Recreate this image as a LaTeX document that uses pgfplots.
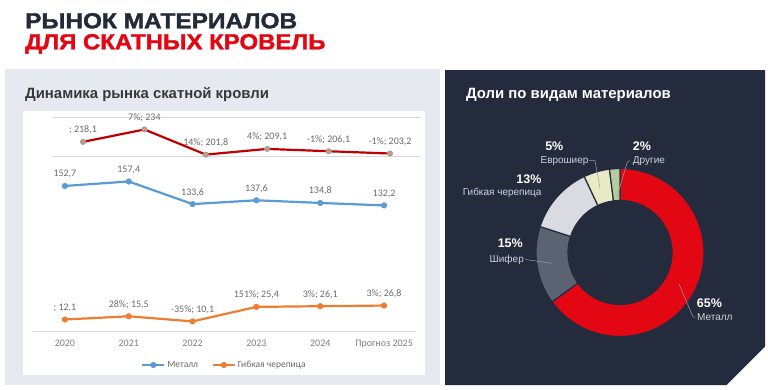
\documentclass[border=0pt]{standalone}
\usepackage{pgfplots}
\pgfplotsset{compat=1.18}
\usepackage{fontspec}
\setmainfont{Liberation Sans}
\newfontfamily\calfont{Carlito}
\newfontfamily\heavyfont{Liberation Sans}[BoldFeatures={FakeBold=1.6}]
\newcommand\lblfont{\calfont\fontsize{10}{12}\selectfont}
\newcommand\legfont{\calfont\fontsize{9.5}{11}\selectfont}
\newcommand\pctfont{\bfseries\fontsize{12.5}{14}\selectfont}
\newcommand\namefont{\fontsize{10}{12}\selectfont}
\newcommand\bigfont{\heavyfont\bfseries\fontsize{21.8}{24}\selectfont}
\newcommand\subfont{\bfseries\fontsize{14.9}{16}\selectfont}
\definecolor{titlenavy}{HTML}{232A38}
\definecolor{titlered}{HTML}{E30613}
\definecolor{leftbg}{HTML}{E6EAF0}
\definecolor{panel}{HTML}{232B3D}
\definecolor{gridc}{HTML}{D9D9D9}
\definecolor{labc}{HTML}{6B6B6B}
\definecolor{tickc}{HTML}{7F7F7F}
\definecolor{bluel}{HTML}{5B9BD5}
\definecolor{orangel}{HTML}{ED7D31}
\definecolor{redl}{HTML}{C00000}
\definecolor{markc}{HTML}{D6956A}
\definecolor{markedge}{HTML}{8FA3BD}
\definecolor{dred}{HTML}{E30613}
\definecolor{dshifer}{HTML}{5B6372}
\definecolor{dgibk}{HTML}{D9DBE0}
\definecolor{deuro}{HTML}{E8EBC6}
\definecolor{dother}{HTML}{B4CC9E}
\definecolor{dlab}{HTML}{D0D4DA}
\definecolor{leader}{HTML}{9AA1AC}
\tikzset{dlabel/.style={font=\lblfont, text=labc, anchor=base, inner sep=0pt, yshift=9pt}}
\begin{document}
\begin{tikzpicture}[x=1pt,y=1pt]
\useasboundingbox (0,0) rectangle (768,-389);
\fill[white] (0,0) rectangle (768,-389);
\fill[leftbg] (5,-69) rectangle (440,-385);
\fill[white] (22.7,-110.5) rectangle (425,-375);
\fill[panel] (445,-70) -- (765,-70) -- (765,-346.7) -- (726.7,-385) -- (445,-385) -- cycle;
% titles
\node[anchor=base west, inner sep=0pt, text=titlenavy, font=\bigfont, xscale=1.12] at (25,-28.3) {РЫНОК МАТЕРИАЛОВ};
\node[anchor=base west, inner sep=0pt, text=titlered, font=\bigfont, xscale=1.1] at (25,-49.3) {ДЛЯ СКАТНЫХ КРОВЕЛЬ};
\node[anchor=base west, inner sep=0pt, text=black!78, font=\subfont] at (25,-98.3) {Динамика рынка скатной кровли};
\node[anchor=base west, inner sep=0pt, text=white, font=\subfont] at (466,-98.3) {Доли по видам материалов};

% primary axis: Metal and flexible tiles
\begin{axis}[at={(33pt,-331pt)}, anchor=south west, scale only axis,
  width=383pt, height=190pt, xmin=-0.5, xmax=5.5, ymin=0, ymax=200,
  axis x line*=bottom, axis y line=none,
  x axis line style={draw=gridc, line width=0.8pt, -},
  xtick={0,1,2,3,4,5},
  xticklabels={2020,2021,2022,2023,2024,Прогноз 2025},
  major tick length=0pt,
  xticklabel style={font=\lblfont, text=tickc, yshift=-5pt},
  clip=false,
  legend columns=2,
  legend style={at={(0.5,0)}, anchor=center, yshift=-34pt, draw=none, fill=none,
    font=\legfont, text=labc,
    /tikz/every even column/.append style={column sep=12pt}},
  legend image code/.code={\draw[mark repeat=2,mark phase=2,#1,line width=1.8pt] plot coordinates {(0pt,0pt) (11pt,0pt) (22pt,0pt)};},
]
\addplot[bluel, line width=2.2pt, mark=*, mark size=2.8pt, mark options={fill=bluel, draw=bluel, line width=0.5pt}]
 coordinates {(0,152.7) (1,157.4) (2,133.6) (3,137.6) (4,134.8) (5,132.2)};
\addlegendentry{Металл}
\addplot[orangel, line width=2.2pt, mark=*, mark size=2.8pt, mark options={fill=orangel, draw=orangel, line width=0.5pt}]
 coordinates {(0,12.1) (1,15.5) (2,10.1) (3,25.4) (4,26.1) (5,26.8)};
\addlegendentry{Гибкая черепица}
\node[dlabel] at (axis cs:0,152.7) {152,7};
\node[dlabel] at (axis cs:1,157.4) {157,4};
\node[dlabel] at (axis cs:2,133.6) {133,6};
\node[dlabel] at (axis cs:3,137.6) {137,6};
\node[dlabel] at (axis cs:4,134.8) {134,8};
\node[dlabel] at (axis cs:5,132.2) {132,2};
\node[dlabel] at (axis cs:0,12.1) {; 12,1};
\node[dlabel] at (axis cs:1,15.5) {28\%; 15,5};
\node[dlabel] at (axis cs:2,10.1) {-35\%; 10,1};
\node[dlabel] at (axis cs:3,25.4) {151\%; 25,4};
\node[dlabel] at (axis cs:4,26.1) {3\%; 26,1};
\node[dlabel] at (axis cs:5,26.8) {3\%; 26,8};
\end{axis}

% secondary axis: total market
\begin{axis}[at={(52.3pt,-156pt)}, anchor=south west, scale only axis,
  width=368.4pt, height=39pt, xmin=-0.5, xmax=5.5, ymin=200, ymax=250,
  axis line style={draw=none}, major tick length=0pt,
  xtick=\empty, ytick={200,250}, yticklabels={},
  ymajorgrids, grid style={draw=gridc, line width=0.8pt},
  clip=false,
]
\addplot[redl, line width=2.2pt, mark=*, mark size=2.6pt, mark options={fill=markc, draw=markedge, line width=0.8pt}]
 coordinates {(0,218.1) (1,234) (2,201.8) (3,209.1) (4,206.1) (5,203.2)};
\node[dlabel] at (axis cs:0,218.1) {; 218,1};
\node[dlabel] at (axis cs:1,234) {7\%; 234};
\node[dlabel] at (axis cs:2,201.8) {14\%; 201,8};
\node[dlabel] at (axis cs:3,209.1) {4\%; 209,1};
\node[dlabel] at (axis cs:4,206.1) {-1\%; 206,1};
\node[dlabel] at (axis cs:5,203.2) {-1\%; 203,2};
\end{axis}

% donut: shares 65, 15, 13, 5, 2 (percent), clockwise from top
\begin{axis}[at={(620pt,-252.5pt)}, anchor=origin, x=1pt, y=1pt,
  xmin=-100, xmax=100, ymin=-100, ymax=100, hide axis, clip=false]
\path (axis cs:0,0) coordinate (C);
\filldraw[fill=dred, draw=panel, line width=1.2pt] (C) ++(90:84pt) arc[start angle=90, end angle=-144, radius=84pt] -- ++(36:32pt) arc[start angle=-144, end angle=90, radius=52pt] -- cycle;
\filldraw[fill=dshifer, draw=panel, line width=1.2pt] (C) ++(216:84pt) arc[start angle=216, end angle=162, radius=84pt] -- ++(-18:32pt) arc[start angle=162, end angle=216, radius=52pt] -- cycle;
\filldraw[fill=dgibk, draw=panel, line width=1.2pt] (C) ++(162:84pt) arc[start angle=162, end angle=115.2, radius=84pt] -- ++(-64.8:32pt) arc[start angle=115.2, end angle=162, radius=52pt] -- cycle;
\filldraw[fill=deuro, draw=panel, line width=1.2pt] (C) ++(115.2:84pt) arc[start angle=115.2, end angle=97.2, radius=84pt] -- ++(-82.8:32pt) arc[start angle=97.2, end angle=115.2, radius=52pt] -- cycle;
\filldraw[fill=dother, draw=panel, line width=1.2pt] (C) ++(97.2:84pt) arc[start angle=97.2, end angle=90, radius=84pt] -- ++(-90:32pt) arc[start angle=90, end angle=97.2, radius=52pt] -- cycle;
\end{axis}

% donut labels
\draw[leader, line width=0.5pt] (679,-284) -- (693,-317) -- (695.5,-317);
\node[anchor=west, inner sep=0pt, text=white, font=\pctfont] at (696.7,-302.7) {65\%};
\node[anchor=west, inner sep=0pt, text=dlab, font=\namefont] at (697,-317.3) {Металл};
\draw[leader, line width=0.5pt] (525.5,-259.5) -- (551.7,-263.3);
\node[anchor=east, inner sep=0pt, text=white, font=\pctfont] at (523,-243.3) {15\%};
\node[anchor=east, inner sep=0pt, text=dlab, font=\namefont] at (524,-260) {Шифер};
\node[anchor=east, inner sep=0pt, text=white, font=\pctfont] at (541.7,-179.3) {13\%};
\node[anchor=east, inner sep=0pt, text=dlab, font=\namefont] at (541.7,-193.3) {Гибкая черепица};
\draw[leader, line width=0.5pt] (589,-160.7) -- (595,-160.7) -- (600,-188);
\node[inner sep=0pt, text=white, font=\pctfont] at (554.3,-146) {5\%};
\node[inner sep=0pt, text=dlab, font=\namefont] at (564.5,-160.7) {Еврошиер};
\draw[leader, line width=0.5pt] (630,-160.7) -- (627.3,-162) -- (617,-197);
\node[anchor=west, inner sep=0pt, text=white, font=\pctfont] at (632.7,-146) {2\%};
\node[anchor=west, inner sep=0pt, text=dlab, font=\namefont] at (632.7,-160.7) {Другие};
\end{tikzpicture}
\end{document}
